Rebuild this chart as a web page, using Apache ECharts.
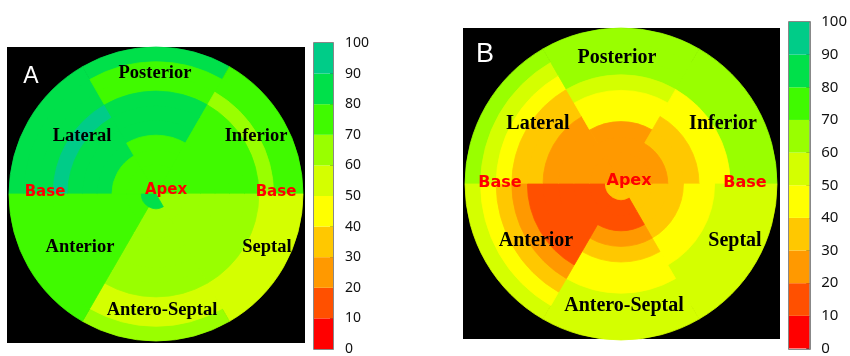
<!DOCTYPE html>
<html><head><meta charset="utf-8">
<script src="https://cdn.jsdelivr.net/npm/echarts/dist/echarts.min.js"></script>
<style>html,body{margin:0;padding:0;background:#fff}#c{width:850px;height:356px}</style>
</head><body><div id="c"></div>
<script>
// sectors (clockwise from the left "Base" direction)
const sectors = ['Lateral', 'Posterior', 'Inferior', 'Septal', 'Antero-Septal', 'Anterior'];
// ring index 0 = apex (centre) ... 9 = base (outer edge)
const ringCount = 10;

// colour scale (bins of 10)
const binEdges = [0, 10, 20, 30, 40, 50, 60, 70, 80, 90, 100];
const binColors = ['#ff0000', '#ff5000', '#ff9900', '#ffc800', '#ffff00',
                   '#d4ff00', '#99ff00', '#40fa00', '#00e04a', '#00cc88'];
const tickLabels = ['0', '10', '20', '30', '40', '50', '60', '70', '80', '90', '100'];

// Panel A values per sector, apex -> base
const A_lateral       = [75, 75, 75, 85, 85, 85, 95, 85, 85, 85];
const A_posterior     = [75, 75, 75, 75, 85, 85, 85, 75, 75, 85];
const A_inferior      = [75, 75, 75, 75, 75, 75, 75, 65, 75, 75];
const A_septal        = [65, 65, 65, 65, 65, 65, 65, 55, 55, 55];
const A_anteroSeptal  = [85, 65, 65, 65, 65, 65, 65, 55, 55, 65];
const A_anterior      = [85, 75, 75, 75, 75, 75, 75, 75, 75, 75];

// Panel B values per sector, apex -> base
const B_lateral       = [25, 25, 25, 25, 25, 35, 35, 45, 55, 65];
const B_posterior     = [25, 25, 25, 25, 45, 45, 55, 65, 65, 65];
const B_inferior      = [25, 25, 25, 35, 35, 45, 45, 65, 65, 65];
const B_septal        = [35, 35, 35, 35, 45, 45, 55, 55, 55, 55];
const B_anteroSeptal  = [35, 15, 15, 25, 35, 45, 45, 55, 55, 55];
const B_anterior      = [35, 15, 15, 15, 15, 15, 25, 35, 45, 55];

const panelA = [A_lateral, A_posterior, A_inferior, A_septal, A_anteroSeptal, A_anterior];
const panelB = [B_lateral, B_posterior, B_inferior, B_septal, B_anteroSeptal, B_anterior];

function colorFor(v) {
  for (let i = 0; i < binColors.length; i++) {
    if (v >= binEdges[i] && v < binEdges[i + 1]) return binColors[i];
  }
  return binColors[binColors.length - 1];
}

const chart = echarts.init(document.getElementById('c'), null, {renderer: 'canvas'});

const hidden = {axisLine: {show: false}, axisTick: {show: false}, axisLabel: {show: false}, splitLine: {show: false}};

// each ring is a disc sector from the centre out to its outer radius; inner rings are drawn on top
function ringSeries(panel, idx) {
  const out = [];
  for (let k = ringCount - 1; k >= 0; k--) {
    out.push({
      type: 'bar', coordinateSystem: 'polar', polarIndex: idx,
      barCategoryGap: '0%', barGap: '-100%', silent: true, animation: false,
      data: sectors.map((s, i) => ({
        value: k + 1,
        itemStyle: {color: colorFor(panel[i][k]), borderColor: colorFor(panel[i][k]), borderWidth: 0.8}
      }))
    });
  }
  return out;
}

function colorbarSeries(gridIdx) {
  return binColors.map((c, i) => ({
    type: 'bar', xAxisIndex: gridIdx, yAxisIndex: gridIdx, stack: 'cb' + gridIdx,
    barWidth: '100%', silent: true, animation: false, z: 1,
    data: [{value: binEdges[i + 1] - binEdges[i], itemStyle: {color: c}}]
  }));
}

const serif = {fontFamily: 'Liberation Serif', fontWeight: 'bold', fill: '#000'};
const red = {fontFamily: 'DejaVu Sans', fontWeight: 'bold', fill: '#ff0000'};

function txt(x, y, t, style, size) {
  return {type: 'text', x: x, y: y, z: 50,
    style: Object.assign({text: t, fontSize: size, textAlign: 'center', textVerticalAlign: 'middle'}, style)};
}

const option = {
  backgroundColor: '#fff',
  animation: false,
  polar: [
    {center: [156, 194], radius: 147},
    {center: [621, 184], radius: 156}
  ],
  angleAxis: [
    Object.assign({type: 'category', data: sectors, polarIndex: 0, startAngle: 180, clockwise: true}, hidden),
    Object.assign({type: 'category', data: sectors, polarIndex: 1, startAngle: 180, clockwise: true}, hidden)
  ],
  radiusAxis: [
    Object.assign({type: 'value', min: 0, max: ringCount, polarIndex: 0}, hidden),
    Object.assign({type: 'value', min: 0, max: ringCount, polarIndex: 1}, hidden)
  ],
  grid: [
    {left: 314, top: 43, width: 19, height: 306},
    {left: 789, top: 22, width: 21, height: 327}
  ],
  xAxis: [
    {type: 'category', data: ['c'], gridIndex: 0, show: false},
    {type: 'category', data: ['c'], gridIndex: 1, show: false}
  ],
  yAxis: [
    {type: 'value', gridIndex: 0, min: 0, max: 100, interval: 10, position: 'right',
      axisLine: {show: true, lineStyle: {color: '#999'}},
      axisTick: {show: true, inside: true, length: 3, lineStyle: {color: '#444'}},
      splitLine: {show: false},
      axisLabel: {margin: 12, color: '#111', fontSize: 14, fontFamily: 'Noto Sans', formatter: v => tickLabels[v / 10]}},
    {type: 'value', gridIndex: 1, min: 0, max: 100, interval: 10, position: 'right',
      axisLine: {show: true, lineStyle: {color: '#999'}},
      axisTick: {show: true, inside: true, length: 3, lineStyle: {color: '#444'}},
      splitLine: {show: false},
      axisLabel: {margin: 12, color: '#111', fontSize: 15, fontFamily: 'Noto Sans', formatter: v => tickLabels[v / 10]}}
  ],
  series: [].concat(ringSeries(panelA, 0), ringSeries(panelB, 1), colorbarSeries(0), colorbarSeries(1)),
  graphic: [
    {type: 'rect', shape: {x: 7, y: 47, width: 298, height: 296}, style: {fill: '#000'}, z: -10},
    {type: 'rect', shape: {x: 463, y: 28, width: 317, height: 311}, style: {fill: '#000'}, z: -10},
    {type: 'rect', shape: {x: 313.5, y: 42.5, width: 20, height: 307}, style: {fill: 'none', stroke: '#888', lineWidth: 1}, z: 60},
    {type: 'rect', shape: {x: 788.5, y: 21.5, width: 22, height: 328}, style: {fill: 'none', stroke: '#888', lineWidth: 1}, z: 60},
    txt(31, 77, 'A', {fill: '#fff', fontFamily: 'Liberation Sans'}, 23),
    txt(485, 55, 'B', {fill: '#fff', fontFamily: 'Liberation Sans'}, 27),
    // panel A labels
    txt(155, 73, 'Posterior', serif, 18.5),
    txt(82, 136, 'Lateral', serif, 18.5),
    txt(256, 136, 'Inferior', serif, 18.5),
    txt(80, 247, 'Anterior', serif, 18.5),
    txt(267, 247, 'Septal', serif, 18.5),
    txt(162, 310, 'Antero-Septal', serif, 18.5),
    txt(45, 192, 'Base', red, 15),
    txt(166, 190, 'Apex', red, 15),
    txt(276, 192, 'Base', red, 15),
    // panel B labels
    txt(617, 58, 'Posterior', serif, 20),
    txt(538, 124, 'Lateral', serif, 20),
    txt(723, 124, 'Inferior', serif, 20),
    txt(536, 241, 'Anterior', serif, 20),
    txt(735, 241, 'Septal', serif, 20),
    txt(624, 306, 'Antero-Septal', serif, 20),
    txt(500, 183, 'Base', red, 16),
    txt(629, 181, 'Apex', red, 16),
    txt(745, 183, 'Base', red, 16)
  ]
};
chart.setOption(option);
</script></body></html>
